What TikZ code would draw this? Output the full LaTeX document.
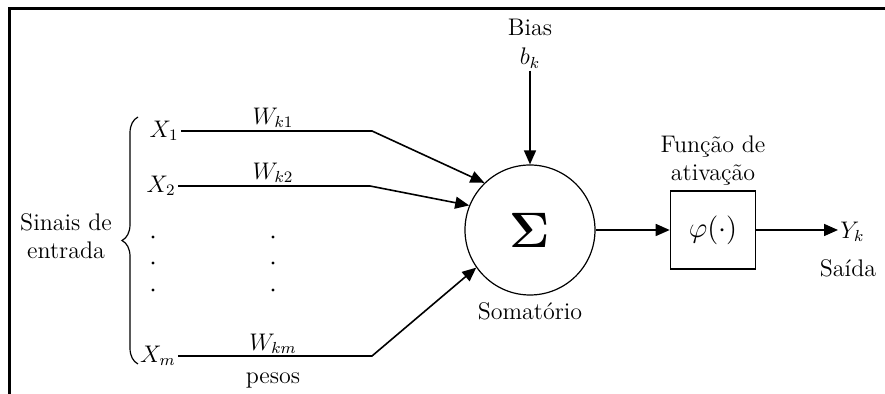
\documentclass[tikz,border=0pt]{standalone}
\usetikzlibrary{arrows.meta,calc}
\usetikzlibrary{positioning}
\usetikzlibrary{decorations.pathreplacing}
\tikzstyle{ndsum} = [draw, line width=0.6pt, shape=circle, minimum size=65pt, inner sep=0pt]
\tikzstyle{ndfun} = [draw, line width=0.8pt, shape=rectangle, minimum width=42.5pt, minimum height=39pt, inner sep=0pt, font=\Large]
\tikzstyle{ndlab} = [inner sep=1pt, font=\large]
\tikzstyle{ndvar} = [inner sep=1pt, font=\large]
\tikzstyle{arsig} = [style={-{Triangle[length=7pt,width=6pt]},line width=0.8pt}]
\tikzstyle{lnfrm} = [line width=1.5pt]

\begin{document}
\begin{tikzpicture}[x=0.5pt, y=-0.5pt]
	\useasboundingbox (0,0) rectangle (885,394);
	\draw[lnfrm] (9,394) -- (9,9) -- (885,9);
	% entradas
	\node[ndvar, anchor=east] (x1) at (181,131) {$X_1$};
	\node[ndvar, anchor=east] (x2) at (178,186) {$X_2$};
	\node[ndvar, anchor=east] (xm) at (178,356) {$X_m$};
	\coordinate (k1) at (372,131);
	\coordinate (k2) at (370,186);
	\coordinate (km) at (372,356);
	\node[ndvar] (w1) at (273,118) {$W_{k1}$};
	\node[ndvar] (w2) at (273,173) {$W_{k2}$};
	\node[ndvar] (wm) at (273,344) {$W_{km}$};
	\node[ndlab] (pesos) at (273,380) {pesos};
	\foreach \y in {237,263,290} {
		\fill (153,\y) circle (1.6);
		\fill (273,\y) circle (1.6);
	}
	\draw[decorate, decoration={brace, amplitude=8pt}, line width=0.6pt] (138,364) -- (138,117);
	\node[ndlab, align=center] (sinais) at (66,236) {Sinais de\\entrada};
	% somatorio
	\node[ndsum] (sum) at (530,230) {\fontsize{32}{32}\selectfont$\mathbf{\Sigma}$};
	\node[ndlab, below=2.5pt of sum] (somlab) {Somatório};
	\node[ndlab] (bias) at (530,27) {Bias};
	\node[ndvar] (bk) at (530,58) {$b_k$};
	% ativacao
	\node[ndfun] (phi) at (713,230) {$\varphi(\cdot)$};
	\node[ndlab, align=center, above=1pt of phi] (funlab) {Função de\\ativação};
	\node[ndvar, anchor=west] (yk) at (838,232) {$Y_k$};
	\node[ndlab] (saida) at (848,268) {Saída};
	\draw[arsig] (x1) -- (k1) -- (sum.134);
	\draw[arsig] (x2) -- (k2) -- (sum.158);
	\draw[arsig] (xm) -- (km) -- (sum.215);
	\draw[arsig] (bk) -- (sum);
	\draw[arsig] (sum) -- (phi);
	\draw[arsig] (phi.east) -- (phi.east -| yk.west);
\end{tikzpicture}
\end{document}
